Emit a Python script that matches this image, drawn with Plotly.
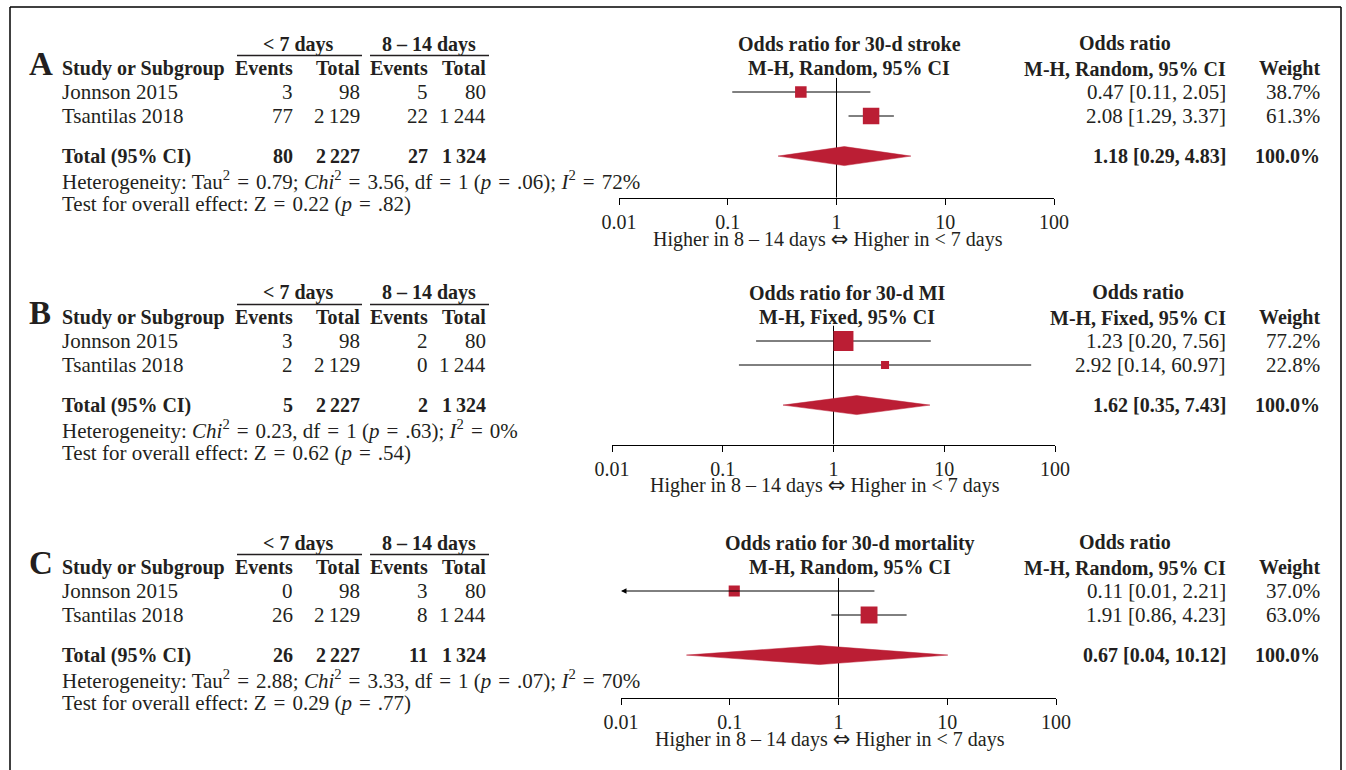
import numpy as np
import plotly.graph_objects as go

W, H = 1346, 770

# ---------------- data ----------------
panel_letters = ["A", "B", "C"]
outcome_titles = ["Odds ratio for 30-d stroke", "Odds ratio for 30-d MI", "Odds ratio for 30-d mortality"]
methods = ["M-H, Random, 95% CI", "M-H, Fixed, 95% CI", "M-H, Random, 95% CI"]
studies = ["Jonnson 2015", "Tsantilas 2018"]

early_events = [[3, 77], [3, 2], [0, 26]]
early_total = [98, 2129]
late_events = [[5, 22], [2, 0], [3, 8]]
late_total = [80, 1244]

study_or = [[0.47, 2.08], [1.23, 2.92], [0.11, 1.91]]
study_lo = [[0.11, 1.29], [0.20, 0.14], [0.01, 0.86]]
study_hi = [[2.05, 3.37], [7.56, 60.97], [2.21, 4.23]]
study_weight = [[38.7, 61.3], [77.2, 22.8], [37.0, 63.0]]

total_or = [1.18, 1.62, 0.67]
total_lo = [0.29, 0.35, 0.04]
total_hi = [4.83, 7.43, 10.12]

tau2 = [0.79, None, 2.88]
chi2 = [3.56, 0.23, 3.33]
het_df = [1, 1, 1]
het_p = [".06", ".63", ".07"]
i2 = [72, 0, 70]
z_val = [0.22, 0.62, 0.29]
z_p = [".82", ".54", ".77"]

tick_vals = [0.01, 0.1, 1, 10, 100]
tick_text = ["0.01", "0.1", "1", "10", "100"]
axis_title = ("Higher in 8 – 14 days "
              "<span style=\"font-family:'DejaVu Sans';font-size:21px\">⇔</span>"
              " Higher in &lt; 7 days")

# ---------------- layout constants (pixels) ----------------
FONT = "Liberation Serif"
TXT = "#231f20"
RED = "#bb1e34"
FS = 21        # regular text
FSB = 20       # bold text
EQ = "\u2004=\u2004"

panel_top = [0, 249, 499]
ROW0, STEP = 92, 24
axis_px = [197.7, 444.5, 697.7]
vtop_px = [77.7, 325.5, 577.7]
xdom_px = [(619, 1054), (612, 1055), (621, 1056)]
title_cx = [849, 847, 850]

COL_LABEL = 60
COL_HEAD = 60
COL_NUM = [295, 362, 430, 488]
GROUP_CX = [298, 429]
GROUP_LINE = [(237, 362), (370, 489)]
COL_OR = 1228
COL_W = 1322

R_HEAD1, R_HEAD2 = -2, -1
R_STUDY = [0, 1]
R_TOTAL = 2.67
R_HET = 3.67
R_TEST = 4.67


def fmt_int(n):
    return f"{n:,}".replace(",", "\u2009")


def fmt_ci(o, lo, hi):
    return f"{o:.2f} [{lo:.2f}, {hi:.2f}]"


fig = go.Figure()
annotations = []
shapes = []


def add_text(text, x_px, y_px, anchor="left", bold=False, size=None):
    if size is None:
        size = FSB if bold else FS
    if bold:
        text = f"<b>{text}</b>"
    annotations.append(dict(
        text=text, x=x_px / W, xref="paper", y=1 - y_px / H, yref="paper",
        xanchor=anchor, yanchor="middle", showarrow=False,
        font=dict(family=FONT, size=size, color=TXT),
    ))


for p in range(3):
    sfx = "" if p == 0 else str(p + 1)
    xa, ya = "x" + sfx, "y" + sfx
    top = panel_top[p]

    def row(px, top=top):
        return (px - top - ROW0) / STEP

    def rpx(r, top=top):
        return top + ROW0 + STEP * r

    # axes
    x0, x1 = xdom_px[p]
    fig.update_layout(**{
        f"xaxis{sfx}": dict(
            type="log", range=[-2, 2], domain=[x0 / W, x1 / W], anchor=ya,
            tickvals=tick_vals, ticktext=tick_text, ticks="outside", ticklen=6,
            tickcolor="black", tickwidth=1, showline=True, linecolor="black",
            linewidth=1, showgrid=False, zeroline=False, fixedrange=True,
            automargin=False,
            tickfont=dict(family=FONT, size=20, color=TXT),
        ),
        f"yaxis{sfx}": dict(
            domain=[1 - axis_px[p] / H, 1 - vtop_px[p] / H],
            range=[row(axis_px[p]), row(vtop_px[p])], anchor=xa,
            visible=False, fixedrange=True, automargin=False,
        ),
    })

    # vertical line of no effect
    fig.add_trace(go.Scatter(
        x=[1, 1], y=[row(axis_px[p]), row(vtop_px[p])], mode="lines",
        line=dict(color="black", width=1), xaxis=xa, yaxis=ya,
        hoverinfo="skip", showlegend=False, cliponaxis=False,
    ))

    # study CIs and squares
    for i in range(2):
        lo, hi, o, w = study_lo[p][i], study_hi[p][i], study_or[p][i], study_weight[p][i]
        r = R_STUDY[i]
        if lo <= tick_vals[0]:
            annotations.append(dict(
                x=np.log10(tick_vals[0]), y=r, xref=xa, yref=ya,
                ax=np.log10(hi), ay=r, axref=xa, ayref=ya,
                text="", showarrow=True, arrowhead=2, arrowsize=1.1,
                arrowwidth=1, arrowcolor="black",
            ))
        else:
            fig.add_trace(go.Scatter(
                x=[lo, hi], y=[r, r], mode="lines",
                line=dict(color="black", width=1), xaxis=xa, yaxis=ya,
                hoverinfo="skip", showlegend=False,
            ))
        fig.add_trace(go.Scatter(
            x=[o], y=[r], mode="markers",
            marker=dict(symbol="square", size=3 + 0.22 * w, color=RED, line=dict(width=0)),
            xaxis=xa, yaxis=ya, showlegend=False, hoverinfo="skip",
        ))

    # pooled diamond
    hh = 9.5 / STEP
    fig.add_trace(go.Scatter(
        x=[total_lo[p], total_or[p], total_hi[p], total_or[p], total_lo[p]],
        y=[R_TOTAL, R_TOTAL - hh, R_TOTAL, R_TOTAL + hh, R_TOTAL],
        mode="lines", fill="toself", fillcolor=RED, line=dict(color=RED, width=0.5),
        xaxis=xa, yaxis=ya, showlegend=False, hoverinfo="skip",
    ))

    # ---- text ----
    add_text(panel_letters[p], 27, top + 64, bold=True, size=33)
    add_text("Study or Subgroup", COL_HEAD, rpx(R_HEAD2), bold=True)
    add_text("&lt; 7 days", GROUP_CX[0], rpx(R_HEAD1), anchor="center", bold=True)
    add_text("8 – 14 days", GROUP_CX[1], rpx(R_HEAD1), anchor="center", bold=True)
    for (a, b) in GROUP_LINE:
        shapes.append(dict(type="line", xref="paper", yref="paper",
                           x0=a / W, x1=b / W, y0=1 - (top + 55.5) / H, y1=1 - (top + 55.5) / H,
                           line=dict(color=TXT, width=1.3)))
    for c, lab in zip(COL_NUM, ["Events", "Total", "Events", "Total"]):
        add_text(lab, c, rpx(R_HEAD2), anchor="right", bold=True)

    add_text(outcome_titles[p], title_cx[p], rpx(R_HEAD1), anchor="center", bold=True)
    add_text(methods[p], title_cx[p], rpx(R_HEAD2), anchor="center", bold=True)
    annotations.append(dict(
        text=f"<b>Odds ratio</b><br><b>{methods[p]}</b>", x=COL_OR / W, xref="paper",
        y=1 - rpx((R_HEAD1 + R_HEAD2) / 2) / H, yref="paper", xanchor="right", yanchor="middle",
        align="center", showarrow=False, font=dict(family=FONT, size=FSB, color=TXT),
    ))
    add_text("Weight", COL_W, rpx(R_HEAD2), anchor="right", bold=True)

    for i in range(2):
        r = R_STUDY[i]
        add_text(studies[i], COL_LABEL, rpx(r))
        vals = [early_events[p][i], early_total[i], late_events[p][i], late_total[i]]
        for c, v in zip(COL_NUM, vals):
            add_text(fmt_int(v), c, rpx(r), anchor="right")
        add_text(fmt_ci(study_or[p][i], study_lo[p][i], study_hi[p][i]), COL_OR, rpx(r), anchor="right")
        add_text(f"{study_weight[p][i]:.1f}%", COL_W, rpx(r), anchor="right")

    add_text("Total (95% CI)", COL_LABEL, rpx(R_TOTAL), bold=True)
    tvals = [sum(early_events[p]), sum(early_total), sum(late_events[p]), sum(late_total)]
    for c, v in zip(COL_NUM, tvals):
        add_text(fmt_int(v), c, rpx(R_TOTAL), anchor="right", bold=True)
    add_text(fmt_ci(total_or[p], total_lo[p], total_hi[p]), COL_OR, rpx(R_TOTAL), anchor="right", bold=True)
    add_text(f"{sum(study_weight[p]):.1f}%", COL_W, rpx(R_TOTAL), anchor="right", bold=True)

    het = "Heterogeneity: "
    if tau2[p] is not None:
        het += f"Tau<sup>2</sup>{EQ}{tau2[p]:.2f}; "
    het += (f"<i>Chi</i><sup>2</sup>{EQ}{chi2[p]:.2f}, df{EQ}{het_df[p]} "
            f"(<i>p</i>{EQ}{het_p[p]}); <i>I</i><sup>2</sup>{EQ}{i2[p]}%")
    add_text(het, COL_LABEL, rpx(R_HET))
    add_text(f"Test for overall effect: Z{EQ}{z_val[p]:.2f} (<i>p</i>{EQ}{z_p[p]})", COL_LABEL, rpx(R_TEST))

    add_text(axis_title, (xdom_px[p][0] + xdom_px[p][1]) / 2 - 9, axis_px[p] + 41, anchor="center", size=20)

# frame
for (a, b, c, d) in [(10, 7, 10, H), (10, 7, 1341, 7), (1341, 7, 1341, H)]:
    shapes.append(dict(type="line", xref="paper", yref="paper",
                       x0=a / W, x1=c / W, y0=1 - b / H, y1=1 - d / H,
                       line=dict(color="black", width=1.5)))

fig.update_layout(
    width=W, height=H, margin=dict(l=0, r=0, t=0, b=0, pad=0, autoexpand=False),
    paper_bgcolor="white", plot_bgcolor="white",
    annotations=annotations, shapes=shapes, showlegend=False,
    font=dict(family=FONT, color=TXT),
)

fig.write_html(
    "out.html",
    post_script="document.body.style.margin='0';document.body.style.overflow='hidden';"
                "document.documentElement.style.overflow='hidden';",
)
